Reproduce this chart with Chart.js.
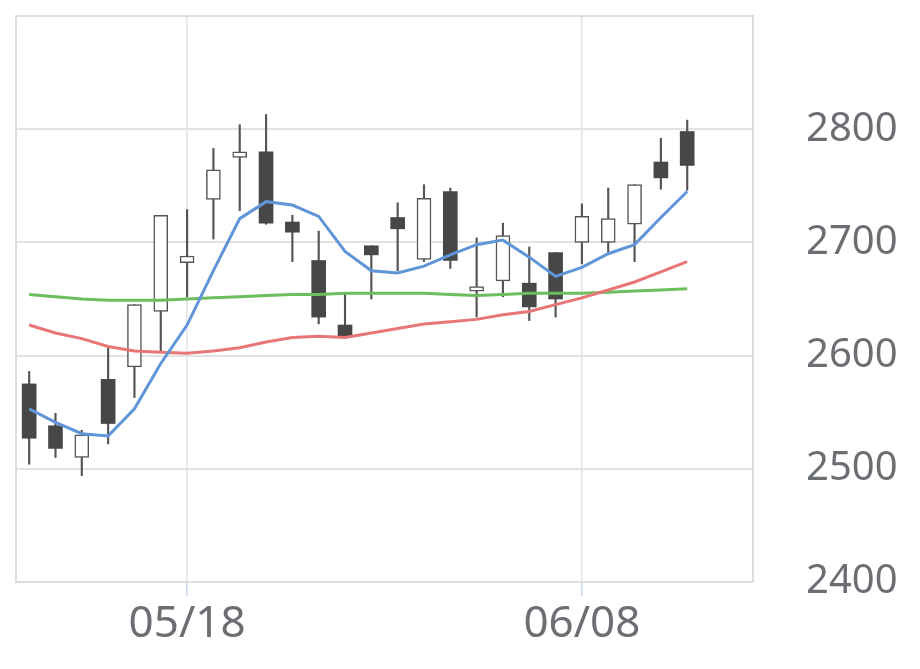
<!DOCTYPE html>
<html>
<head>
<meta charset="utf-8">
<script src="https://cdn.jsdelivr.net/npm/chart.js@4.4.1/dist/chart.umd.min.js"></script>
<style>
  html, body { margin: 0; padding: 0; background: #fff; }
  #wrap { width: 920px; height: 669px; position: relative; }
</style>
</head>
<body>
<div id="wrap"><canvas id="candleChart"></canvas></div>
<script>
// Daily candles, 05/08 - 06/12
const dates = ['05/08', '05/11', '05/12', '05/13', '05/14', '05/15', '05/18', '05/19', '05/20', '05/21',
    '05/22', '05/25', '05/26', '05/27', '05/28', '05/29', '06/01', '06/02', '06/03', '06/04',
    '06/05', '06/08', '06/09', '06/10', '06/11', '06/12'];
const openVals  = [2575, 2538, 2510, 2579, 2590, 2639, 2682, 2738, 2775, 2780, 2718, 2684, 2627, 2697, 2722, 2685, 2745, 2657, 2666, 2664, 2691, 2700, 2700, 2716, 2771, 2798];
const highVals  = [2586, 2549, 2534, 2607, 2645, 2724, 2729, 2783, 2804, 2813, 2724, 2710, 2655, 2697, 2735, 2751, 2748, 2704, 2717, 2696, 2691, 2734, 2748, 2751, 2792, 2808];
const lowVals   = [2504, 2510, 2494, 2522, 2563, 2603, 2652, 2703, 2728, 2716, 2683, 2628, 2615, 2650, 2675, 2683, 2677, 2634, 2652, 2631, 2634, 2681, 2691, 2683, 2747, 2746];
const closeVals = [2527, 2518, 2530, 2540, 2645, 2724, 2688, 2764, 2780, 2717, 2709, 2634, 2616, 2689, 2712, 2739, 2684, 2661, 2706, 2643, 2650, 2723, 2721, 2751, 2757, 2768];

// Moving averages
const ma5  = [2553, 2541, 2531, 2529, 2553, 2593, 2627, 2675, 2721, 2736, 2733, 2723, 2692, 2675, 2673, 2679, 2689, 2698, 2702, 2687, 2670, 2678, 2690, 2698, 2722, 2745];
const ma25 = [2627, 2620, 2615, 2608, 2604, 2603, 2602, 2604, 2607, 2612, 2616, 2617, 2616, 2620, 2624, 2628, 2630, 2632, 2636, 2639, 2645, 2651, 2658, 2665, 2674, 2683];
const ma75 = [2654, 2652, 2650, 2649, 2649, 2649, 2650, 2651, 2652, 2653, 2654, 2654, 2655, 2655, 2655, 2655, 2654, 2653, 2654, 2655, 2655, 2655, 2656, 2657, 2658, 2659];

// Axis labels that are shown
const shownDates = ['05/18', '06/08'];
const emptySlots = ['', ''];
const yMin = 2400;
const yMax = 2900;
const yStep = 100;

const textColor = '#6b6e72';
const gridColor = '#e2e2e2';
const upColor = '#ffffff';
const downColor = '#474747';
const edgeColor = '#555555';

const labels = dates.concat(emptySlots);
const isUp = openVals.map((o, i) => closeVals[i] >= o);

// frame round the plot area
const framePlugin = {
    id: 'frame',
    beforeDatasetsDraw(chart) {
        const { ctx, chartArea: a } = chart;
        ctx.save();
        ctx.strokeStyle = '#dddddd';
        ctx.lineWidth = 2;
        ctx.strokeRect(a.left, a.top, a.right - a.left, a.bottom - a.top);
        ctx.restore();
    }
};

const lineSet = (label, data, color) => ({
    type: 'line',
    label: label,
    data: data,
    borderColor: color,
    borderWidth: 3,
    pointRadius: 0,
    tension: 0,
    fill: false,
    order: 0
});

new Chart(document.getElementById('candleChart'), {
    type: 'bar',
    data: {
        labels: labels,
        datasets: [
            lineSet('MA5', ma5, '#6096d8'),
            lineSet('MA25', ma25, '#e87676'),
            lineSet('MA75', ma75, '#6cbd5e'),
            {
                label: 'body',
                data: openVals.map((o, i) => [o, closeVals[i]]),
                backgroundColor: isUp.map(u => u ? upColor : downColor),
                borderColor: edgeColor,
                borderWidth: isUp.map(u => u ? 1.5 : 0),
                borderSkipped: false,
                barThickness: 14,
                grouped: false,
                order: 1
            },
            {
                label: 'wick',
                data: lowVals.map((l, i) => [l, highVals[i]]),
                backgroundColor: edgeColor,
                borderWidth: 0,
                barThickness: 1.5,
                grouped: false,
                order: 2
            }
        ]
    },
    options: {
        responsive: true,
        maintainAspectRatio: false,
        animation: false,
        layout: { padding: { left: 16, top: 16, right: 0, bottom: 0 } },
        plugins: {
            legend: { display: false },
            tooltip: { enabled: false }
        },
        scales: {
            x: {
                type: 'category',
                offset: true,
                grid: {
                    offset: false,
                    lineWidth: 1.5,
                    tickLength: 14,
                    color: ctx => shownDates.includes(labels[ctx.index]) ? '#dfe2ea' : 'transparent',
                    tickColor: ctx => shownDates.includes(labels[ctx.index]) ? '#c6d6f0' : 'transparent'
                },
                border: { display: true, color: '#dddddd', width: 2 },
                ticks: {
                    autoSkip: false,
                    maxRotation: 0,
                    minRotation: 0,
                    padding: 2,
                    color: textColor,
                    font: { family: 'Noto Sans', size: 44 },
                    callback: function (value) {
                        const lab = this.getLabelForValue(value);
                        return shownDates.includes(lab) ? lab : '';
                    }
                },
                afterFit: scale => { scale.height = 87; }
            },
            y: {
                position: 'right',
                min: yMin,
                max: yMax,
                grid: { color: gridColor, lineWidth: 2, drawTicks: false },
                border: { display: true, color: '#dddddd', width: 2 },
                ticks: {
                    stepSize: yStep,
                    padding: 53,
                    color: textColor,
                    font: { family: 'Noto Sans', size: 40 },
                    callback: value => value >= yMax ? '' : value
                },
                afterFit: scale => {
                    scale.width = 167;
                    scale.paddingTop = 0;
                    scale.paddingBottom = 0;
                }
            }
        }
    },
    plugins: [framePlugin]
});
</script>
</body>
</html>
